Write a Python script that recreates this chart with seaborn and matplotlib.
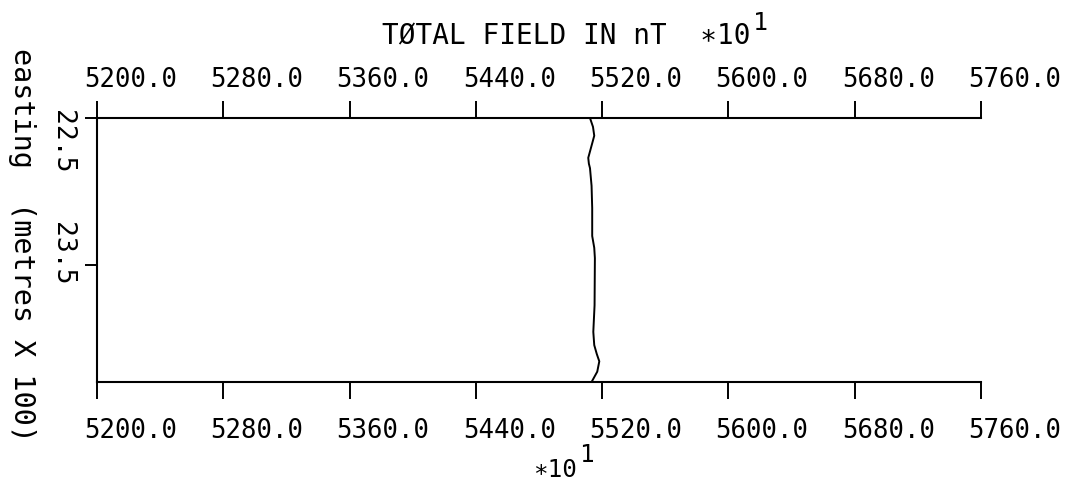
import matplotlib
matplotlib.use("Agg")
import matplotlib.pyplot as plt
import seaborn as sns
import pandas as pd
from matplotlib.transforms import blended_transform_factory, ScaledTranslation

# ---- data ----
total_field = [5512.3, 5514.2, 5515.0, 5514.0, 5511.2, 5511.6, 5512.3, 5513.3, 5513.7,
               5513.7, 5515.0, 5515.4, 5515.2, 5514.4, 5515.0, 5516.6, 5518.2, 5516.9, 5513.3]
easting = [22.50, 22.56, 22.62, 22.66, 22.77, 22.81, 22.84, 22.96, 23.11,
           23.30, 23.38, 23.45, 23.77, 23.95, 24.04, 24.10, 24.15, 24.22, 24.29]
x_ticks = [5200.0, 5280.0, 5360.0, 5440.0, 5520.0, 5600.0, 5680.0, 5760.0]
x_tick_labels = ["5200.0", "5280.0", "5360.0", "5440.0", "5520.0", "5600.0", "5680.0", "5760.0"]
y_ticks = [22.5, 23.5]
y_tick_labels = ["22.5", "23.5"]
x_limits = [5200.0, 5760.0]
y_limits = [24.29, 22.5]

df = pd.DataFrame({"field": total_field, "easting": easting})

sns.set_style("white")
plt.rcParams["font.family"] = ["DejaVu Sans Mono", "DejaVu Sans"]

W, H = 1079, 481
fig = plt.figure(figsize=(W / 100, H / 100), dpi=100)
ax = fig.add_axes([97 / W, 1 - 383 / H, (981 - 97) / W, (383 - 119) / H])

sns.lineplot(data=df, x="field", y="easting", sort=False, estimator=None,
             orient="y", color="black", linewidth=1.4, ax=ax)

ax.set_xlim(*x_limits)
ax.set_ylim(*y_limits)
ax.set_xlabel("")
ax.set_ylabel("")

for s in ["left", "top", "bottom"]:
    ax.spines[s].set_visible(True)
    ax.spines[s].set_color("black")
    ax.spines[s].set_linewidth(1.5)
ax.spines["right"].set_visible(False)

ax.set_xticks(x_ticks)
ax.set_yticks(y_ticks)
ax.tick_params(axis="x", which="major", top=True, bottom=True, direction="out",
               length=12.5, width=1.4, color="black", labelbottom=False, labeltop=False)
ax.tick_params(axis="y", which="major", left=True, right=False, direction="out",
               length=9, width=1.4, color="black", labelleft=False)


def off(dx, dy):
    return ScaledTranslation(dx / 100, -dy / 100, fig.dpi_scale_trans)


xb = blended_transform_factory(ax.transData, ax.transAxes)
for v, lab in zip(x_ticks, x_tick_labels):
    ax.text(v, 1, lab, transform=xb + off(-13, -32), ha="left", va="baseline",
            fontsize=18.5, color="black")
    ax.text(v, 0, lab, transform=xb + off(-13, 55), ha="left", va="baseline",
            fontsize=18.5, color="black")

yb = blended_transform_factory(ax.transAxes, ax.transData)
y_label_shift = [-9, -44]
for v, lab, sh in zip(y_ticks, y_tick_labels, y_label_shift):
    ax.text(0, v, lab, transform=yb + off(-35, sh), ha="center", va="top",
            rotation=-90, fontsize=19, color="black")

# axis titles
fig.text(382 / W, 1 - 44 / H, "TØTAL FIELD IN nT  ∗10", ha="left", va="baseline",
         fontsize=20, color="black")
fig.text(753 / W, 1 - 30 / H, "1", ha="left", va="baseline", fontsize=18, color="black")
fig.text(533 / W, 1 - 477 / H, "∗10", ha="left", va="baseline", fontsize=17.5, color="black")
fig.text(579 / W, 1 - 462 / H, "1", ha="left", va="baseline", fontsize=17.5, color="black")
fig.text(22 / W, 1 - 245 / H, "easting  (metres X 100)", ha="center", va="center",
         rotation=-90, fontsize=20.5, color="black")

fig.savefig("out.png", dpi=100, facecolor="white")
